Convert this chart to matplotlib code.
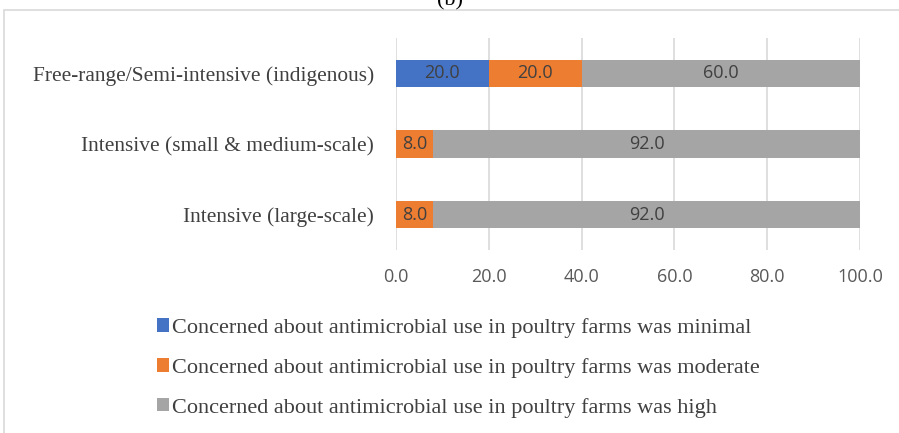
import numpy as np
import matplotlib.pyplot as plt
from matplotlib.patches import Rectangle

# data
categories = ['Intensive (large-scale)', 'Intensive (small & medium-scale)',
              'Free-range/Semi-intensive (indigenous)']
minimal = [0.0, 0.0, 20.0]
moderate = [8.0, 8.0, 20.0]
high = [92.0, 92.0, 60.0]
series_names = ['Concerned about antimicrobial use in poultry farms was minimal',
                'Concerned about antimicrobial use in poultry farms was moderate',
                'Concerned about antimicrobial use in poultry farms was high']
colors = ['#4472c4', '#ed7d31', '#a5a5a5']
xticks = [0, 20, 40, 60, 80, 100]

serif = ['Liberation Serif', 'DejaVu Serif']
sans = ['Open Sans', 'DejaVu Sans']

fig = plt.figure(figsize=(8.99, 4.33), dpi=100)
ax = fig.add_axes([396/899, 1 - 250/433, 464/899, 212/433])

# outer chart border
fig.patches.append(Rectangle((4/899, -0.01), 1.0, (433 - 10)/433 + 0.01,
                             transform=fig.transFigure, fill=False,
                             edgecolor='#d9d9d9', linewidth=1.2))
fig.text(0.5, (433 - 10)/433, '(b)', ha='center', va='bottom', fontsize=16,
         family=serif)

y = np.arange(len(categories))
left = np.zeros(len(categories))
for vals, name, c in zip([minimal, moderate, high], series_names, colors):
    vals = np.array(vals)
    bars = ax.barh(y, vals, left=left, height=0.39, color=c, label=name, zorder=3)
    for b, v in zip(bars, vals):
        if v > 0:
            ax.text(b.get_x() + b.get_width()/2, b.get_y() + b.get_height()/2,
                    f'{v:.1f}', ha='center', va='center', fontsize=13,
                    color='#404040', family=sans, zorder=4)
    left += vals

ax.set_xlim(0, 100)
ax.set_ylim(-0.5, 2.5)
ax.set_xticks(xticks)
ax.set_xticklabels([f'{t:.1f}' for t in xticks], family=sans, fontsize=13,
                   color='#595959')
ax.set_yticks(y)
ax.set_yticklabels(categories, family=serif, fontsize=15.4, color='#404040')
ax.tick_params(axis='y', length=0, pad=16)
ax.tick_params(axis='x', length=0, pad=13)
ax.grid(axis='x', color='#d9d9d9', linewidth=1.2, zorder=0)
for s in ax.spines.values():
    s.set_visible(False)

leg = fig.legend(loc='upper left', bbox_to_anchor=(148/899, 1 - 309/433),
                 frameon=False, prop={'family': serif, 'size': 16},
                 handlelength=0.55, handleheight=0.55, handletextpad=0.12,
                 labelspacing=0.9, borderaxespad=0)
for t in leg.get_texts():
    t.set_color('#404040')

fig.savefig('out.png', dpi=100)
